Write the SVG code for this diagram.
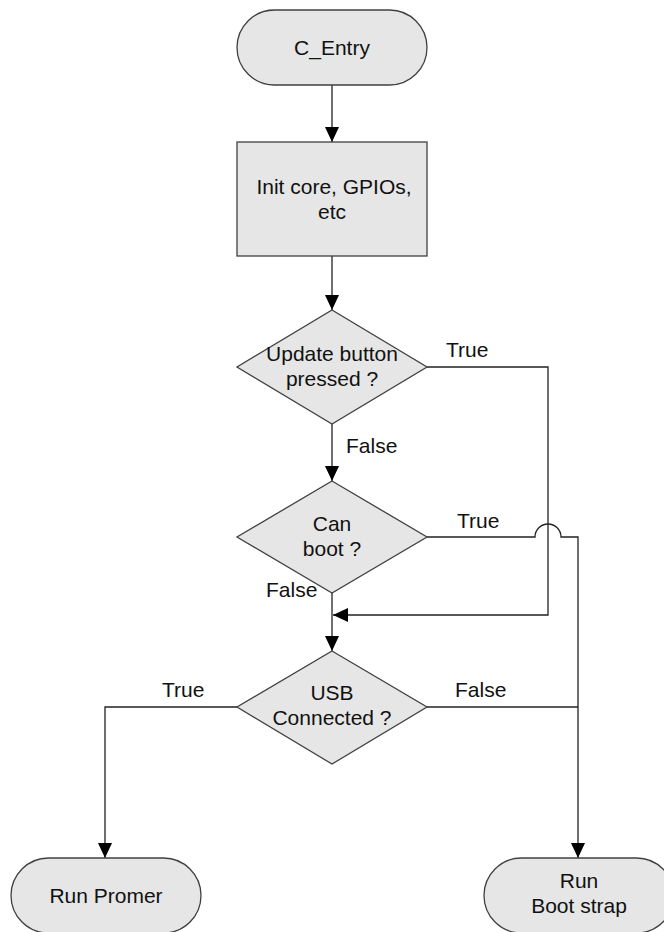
<svg xmlns="http://www.w3.org/2000/svg" width="664" height="932" viewBox="0 0 664 932">
<defs>
<style>
.node{fill:#e6e6e6;stroke:#404040;stroke-width:1.3}
.t{font-family:"Liberation Sans",Arial,sans-serif;font-size:21px;fill:#111;text-anchor:middle}
.l{font-family:"Liberation Sans",Arial,sans-serif;font-size:21px;fill:#111}
.c{fill:none;stroke:#222;stroke-width:1.3}
</style>
<marker id="ah" markerUnits="userSpaceOnUse" markerWidth="16" markerHeight="14" refX="15" refY="7" orient="auto">
<path d="M0,0 L15,7 L0,14 Z" fill="#000"/>
</marker>
</defs>
<rect width="664" height="932" fill="#fff"/>
<g id="connectors">
<path class="c" d="M332,85 V142" marker-end="url(#ah)"/>
<path class="c" d="M332,256 V310" marker-end="url(#ah)"/>
<path class="c" d="M332,424 V481" marker-end="url(#ah)"/>
<path class="c" d="M427,367 H548 V615 H333" marker-end="url(#ah)"/>
<path class="c" d="M332,593 V651" marker-end="url(#ah)"/>
<path class="c" d="M427,537 H535 A13,13 0 0 1 561,537 H578 V858" marker-end="url(#ah)"/>
<path class="c" d="M427,707 H578"/>
<path class="c" d="M237,707 H105 V858" marker-end="url(#ah)"/>
</g>
<g id="c_entry">
<rect class="node" x="237" y="10" width="190" height="75" rx="37.5" ry="37.5"/>
<text class="t" x="332" y="55">C_Entry</text>
</g>
<g id="init">
<rect class="node" x="237" y="142" width="190" height="114"/>
<text class="t" x="334" y="194">Init core, GPIOs,</text>
<text class="t" x="332" y="219">etc</text>
</g>
<g id="update_button">
<polygon class="node" points="332,310 427,367 332,424 237,367"/>
<text class="t" x="332" y="361">Update button</text>
<text class="t" x="332" y="386">pressed ?</text>
</g>
<g id="can_boot">
<polygon class="node" points="332,481 427,537 332,593 237,537"/>
<text class="t" x="332" y="531">Can</text>
<text class="t" x="332" y="556">boot ?</text>
</g>
<g id="usb_connected">
<polygon class="node" points="332,651 427,707 332,764 237,707"/>
<text class="t" x="332" y="700">USB</text>
<text class="t" x="332" y="725">Connected ?</text>
</g>
<g id="run_promer">
<rect class="node" x="11" y="858" width="190" height="75" rx="37.5" ry="37.5"/>
<text class="t" x="106" y="903">Run Promer</text>
</g>
<g id="run_bootstrap">
<rect class="node" x="484" y="858" width="190" height="75" rx="37.5" ry="37.5"/>
<text class="t" x="579" y="888">Run</text>
<text class="t" x="579" y="913">Boot strap</text>
</g>
<g id="labels">
<text class="l" x="446" y="357">True</text>
<text class="l" x="346" y="453">False</text>
<text class="l" x="457" y="528">True</text>
<text class="l" x="266" y="597">False</text>
<text class="l" x="162" y="697">True</text>
<text class="l" x="455" y="697">False</text>
</g>
</svg>
